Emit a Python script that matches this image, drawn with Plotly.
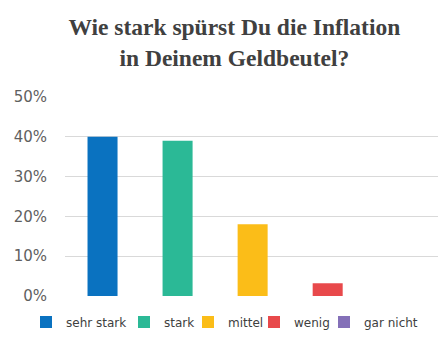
import plotly.graph_objects as go

categories = ["sehr stark", "stark", "mittel", "wenig", "gar nicht"]
values = [0.40, 0.39, 0.18, 0.032, 0.0]
colors = ["#0a72c0", "#2bb996", "#fbbd18", "#e8494b", "#8470b8"]
y_ticks = [0, 0.1, 0.2, 0.3, 0.4, 0.5]
y_labels = ["0%", "10%", "20%", "30%", "40%", "50%"]

# legend entry positions (symbol centres, px) as in the reference
legend_px = [53, 151, 215, 281, 351]

fig = go.Figure()
legend_layout = {}
for i, (c, v, col) in enumerate(zip(categories, values, colors)):
    key = "legend" if i == 0 else f"legend{i+1}"
    fig.add_trace(go.Bar(x=[c], y=[v], name=c, marker_color=col, width=0.4,
                         marker_line_width=0, legend=key))
    legend_layout[key] = dict(
        orientation="h", xref="container", yref="container",
        x=(legend_px[i] - 27) / 438, xanchor="left",
        y=(342 - 322) / 342, yanchor="middle",
        font=dict(family="DejaVu Sans", size=12, color="#404040"),
        itemwidth=30, itemclick=False, bgcolor="rgba(0,0,0,0)",
    )

fig.update_layout(
    width=438, height=342,
    margin=dict(l=65, r=0, t=97, b=46),
    paper_bgcolor="white", plot_bgcolor="white",
    barmode="overlay",
    title=dict(text="<b>Wie stark spürst Du die Inflation<br>in Deinem Geldbeutel?</b>",
               x=0.535, xanchor="center", y=1 - 35 / 342, yanchor="middle",
               font=dict(family="Liberation Serif", size=23.5, color="#404040")),
    xaxis=dict(categoryorder="array", categoryarray=categories,
               range=[-0.5, 4.47], showticklabels=False, showgrid=False,
               zeroline=False, showline=False, fixedrange=True),
    yaxis=dict(range=[0, 0.5], tickvals=y_ticks, ticktext=y_labels,
               showgrid=True, gridcolor="#d9d9d9", gridwidth=1,
               zeroline=False, showline=False, ticklabelstandoff=17,
               tickfont=dict(family="DejaVu Sans", size=15, color="#5f5f5f")),
    showlegend=True,
    **legend_layout,
)

fig.write_html("out.html")
